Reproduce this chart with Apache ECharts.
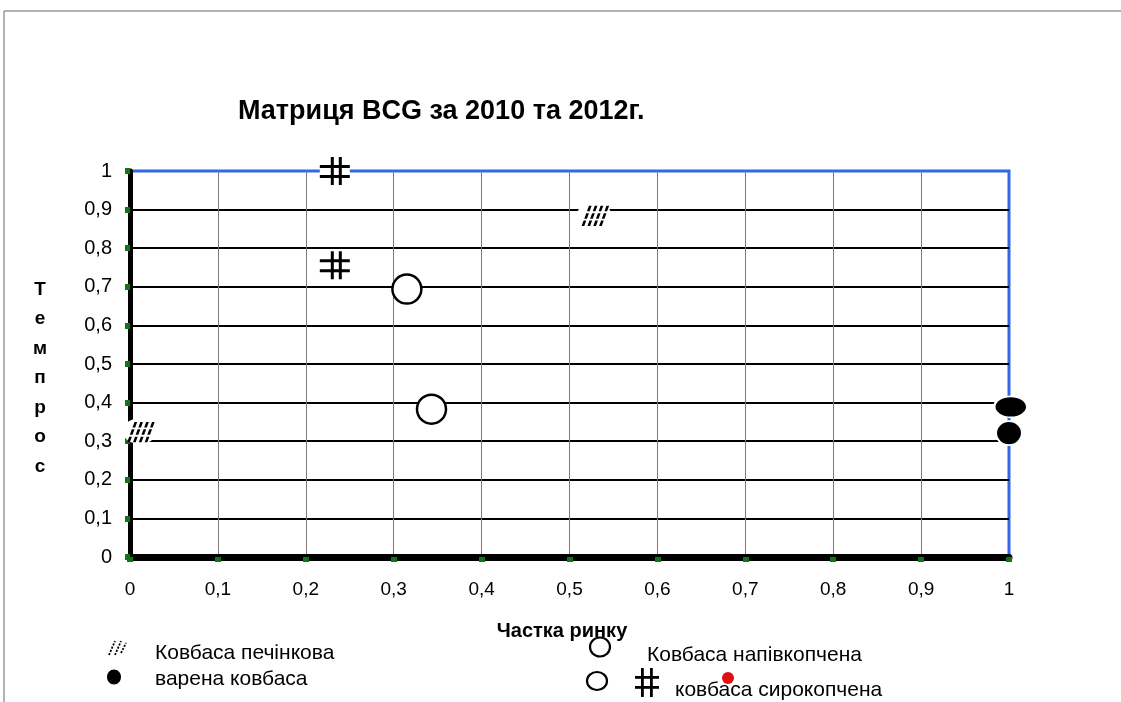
<!DOCTYPE html>
<html><head><meta charset="utf-8">
<script src="https://cdn.jsdelivr.net/npm/echarts@6/dist/echarts.min.js"></script>
<style>html,body{margin:0;padding:0;background:#fff}#c{width:1121px;height:702px}</style>
</head><body><div id="c"></div>
<script>
// ---- data ----
const titleText = 'Матриця BCG за 2010 та 2012г.';
const xAxisName = 'Частка ринку';
const yAxisName = 'Темпрос';
const tickLabels = ['0','0,1','0,2','0,3','0,4','0,5','0,6','0,7','0,8','0,9','1'];
const seriesNames = ['Ковбаса печінкова','варена ковбаса','Ковбаса напівкопчена','ковбаса сирокопчена'];
// [market share, growth rate]
const pechinkova = [[0.011, 0.326], [0.528, 0.886]];
const varena = [[1.002, 0.389], [1.0, 0.321]];
const varenaSizes = [[33, 21], [26, 24]];
const napivkopchena = [[0.315, 0.694], [0.343, 0.383]];
const syrokopchena = [[0.233, 1.0], [0.233, 0.756]];

// ---- symbol paths ----
const hashPath = 'path://M11,0h3v28h-3zM19,0h3v28h-3zM0,8h30v3h-30zM0,18h30v3h-30z';
function hatchPath() {
  let p = '';
  const starts = [3, 10, 17, 24];
  starts.forEach(s => {
    for (let k = 0; k < 3; k++) {
      const y0 = 24 - k * 8, y1 = y0 - 6;
      const x0 = s + k * 3.2, x1 = x0 + 2.4;
      p += `M${x0},${y0}L${x0 + 3.2},${y0}L${x1 + 3.2},${y1}L${x1},${y1}Z`;
    }
  });
  return 'path://M0,0L0.01,0L0.01,0.01ZM34,24L33.99,24L33.99,23.99Z' + p;
}

const chart = echarts.init(document.getElementById('c'), null, {renderer: 'canvas'});
const blue = '#3366e6';
const yColors = tickLabels.map((t, i) => i === tickLabels.length - 1 ? blue : '#000');
const xColors = tickLabels.map((t, i) => i === tickLabels.length - 1 ? blue : '#7a7a7a');
const fontFam = 'Arial, "Liberation Sans", sans-serif';

chart.setOption({
  backgroundColor: '#fff',
  animation: false,
  title: {
    text: titleText, left: 233, top: 93,
    textStyle: {fontFamily: fontFam, fontSize: 27, fontWeight: 'bold', color: '#000'}
  },
  grid: {left: 130, right: 112, top: 171, bottom: 145, show: true, borderColor: blue, borderWidth: 3, backgroundColor: '#fff'},
  xAxis: {
    type: 'value', min: 0, max: 1, interval: 0.1,
    axisLine: {show: true, onZero: false, lineStyle: {color: '#000', width: 7}},
    axisTick: {show: true, length: 5, lineStyle: {color: '#0a7a0a', width: 6}},
    axisLabel: {margin: 23, fontFamily: fontFam, fontSize: 19, color: '#000',
      formatter: (v) => tickLabels[Math.round(v * 10)]},
    splitLine: {show: true, lineStyle: {color: xColors, width: 1}}
  },
  yAxis: {
    type: 'value', min: 0, max: 1, interval: 0.1,
    axisLine: {show: true, onZero: false, lineStyle: {color: '#000', width: 5}},
    axisTick: {show: true, length: 5, lineStyle: {color: '#0a7a0a', width: 6}},
    axisLabel: {margin: 18, fontFamily: fontFam, fontSize: 20, color: '#000',
      formatter: (v) => tickLabels[Math.round(v * 10)]},
    splitLine: {show: true, lineStyle: {color: yColors, width: 2}}
  },
  series: [
    {name: seriesNames[0] + ' bg', type: 'scatter', data: pechinkova, symbol: 'circle', symbolSize: [34, 26],
      itemStyle: {color: '#fff', opacity: 1}, silent: true, z: 3, clip: false},
    {name: seriesNames[0], type: 'scatter', data: pechinkova, symbol: hatchPath(), symbolSize: [30, 22],
      itemStyle: {color: '#000', opacity: 1}, z: 4, clip: false},
    {name: seriesNames[1], type: 'scatter', data: varena.map((d, i) => ({value: d, symbolSize: varenaSizes[i]})),
      symbol: 'circle', itemStyle: {color: '#000', borderColor: '#fff', borderWidth: 2, opacity: 1}, z: 4, clip: false},
    {name: seriesNames[2], type: 'scatter', data: napivkopchena, symbol: 'circle', symbolSize: 29,
      itemStyle: {color: '#fff', borderColor: '#000', borderWidth: 2.5, opacity: 1}, z: 4, clip: false},
    {name: seriesNames[3] + ' bg', type: 'scatter', data: syrokopchena, symbol: 'roundRect', symbolSize: [30, 24],
      itemStyle: {color: '#fff', opacity: 1}, silent: true, z: 3, clip: false},
    {name: seriesNames[3], type: 'scatter', data: syrokopchena, symbol: hashPath, symbolSize: [30, 28],
      itemStyle: {color: '#000', opacity: 1}, z: 4, clip: false}
  ],
  graphic: [
    // outer frame
    {type: 'line', shape: {x1: 4, y1: 11, x2: 1121, y2: 11}, style: {stroke: '#9a9a9a', lineWidth: 1.5}},
    {type: 'line', shape: {x1: 4, y1: 11, x2: 4, y2: 702}, style: {stroke: '#9a9a9a', lineWidth: 1.5}},
    // axis names
    {type: 'text', style: {text: xAxisName, x: 562, y: 631, align: 'center', verticalAlign: 'middle',
      font: 'bold 20px ' + fontFam, fill: '#000'}},
    {type: 'text', style: {text: yAxisName.split('').join('\n'), x: 40, y: 275, align: 'center', verticalAlign: 'top',
      font: 'bold 19px ' + fontFam, lineHeight: 29.5, fill: '#000'}},
    // legend: left column
    {type: 'line', shape: {x1: 109, y1: 655, x2: 115, y2: 641}, style: {stroke: '#000', lineWidth: 1.8, lineDash: [2, 1.5]}},
    {type: 'line', shape: {x1: 115, y1: 655, x2: 121, y2: 641}, style: {stroke: '#000', lineWidth: 1.8, lineDash: [2, 1.5]}},
    {type: 'line', shape: {x1: 121, y1: 653, x2: 126, y2: 643}, style: {stroke: '#000', lineWidth: 1.8, lineDash: [2, 1.5]}},
    {type: 'text', style: {text: seriesNames[0], x: 155, y: 653, verticalAlign: 'middle', font: '21px ' + fontFam, fill: '#000'}},
    {type: 'ellipse', shape: {cx: 114, cy: 677, rx: 7, ry: 7.5}, style: {fill: '#000'}},
    {type: 'text', style: {text: seriesNames[1], x: 155, y: 679, verticalAlign: 'middle', font: '21px ' + fontFam, fill: '#000'}},
    // legend: right column
    {type: 'ellipse', shape: {cx: 600, cy: 647, rx: 10, ry: 9.5}, style: {fill: '#fff', stroke: '#000', lineWidth: 2.2}},
    {type: 'text', style: {text: seriesNames[2], x: 647, y: 655, verticalAlign: 'middle', font: '21px ' + fontFam, fill: '#000'}},
    {type: 'ellipse', shape: {cx: 597, cy: 681, rx: 10, ry: 9}, style: {fill: '#fff', stroke: '#000', lineWidth: 2.2}},
    {type: 'group', x: 634, y: 668, children: [
      {type: 'rect', shape: {x: 7, y: 0, width: 2.8, height: 29}, style: {fill: '#000'}},
      {type: 'rect', shape: {x: 16, y: 0, width: 2.8, height: 29}, style: {fill: '#000'}},
      {type: 'rect', shape: {x: 1, y: 8, width: 24, height: 2.8}, style: {fill: '#000'}},
      {type: 'rect', shape: {x: 1, y: 18, width: 24, height: 2.8}, style: {fill: '#000'}}
    ]},
    {type: 'text', style: {text: seriesNames[3], x: 675, y: 690, verticalAlign: 'middle', font: '21px ' + fontFam, fill: '#000'}},
    {type: 'circle', shape: {cx: 728, cy: 678, r: 6}, style: {fill: '#e01010'}, z: 10}
  ]
});
</script>
</body></html>
